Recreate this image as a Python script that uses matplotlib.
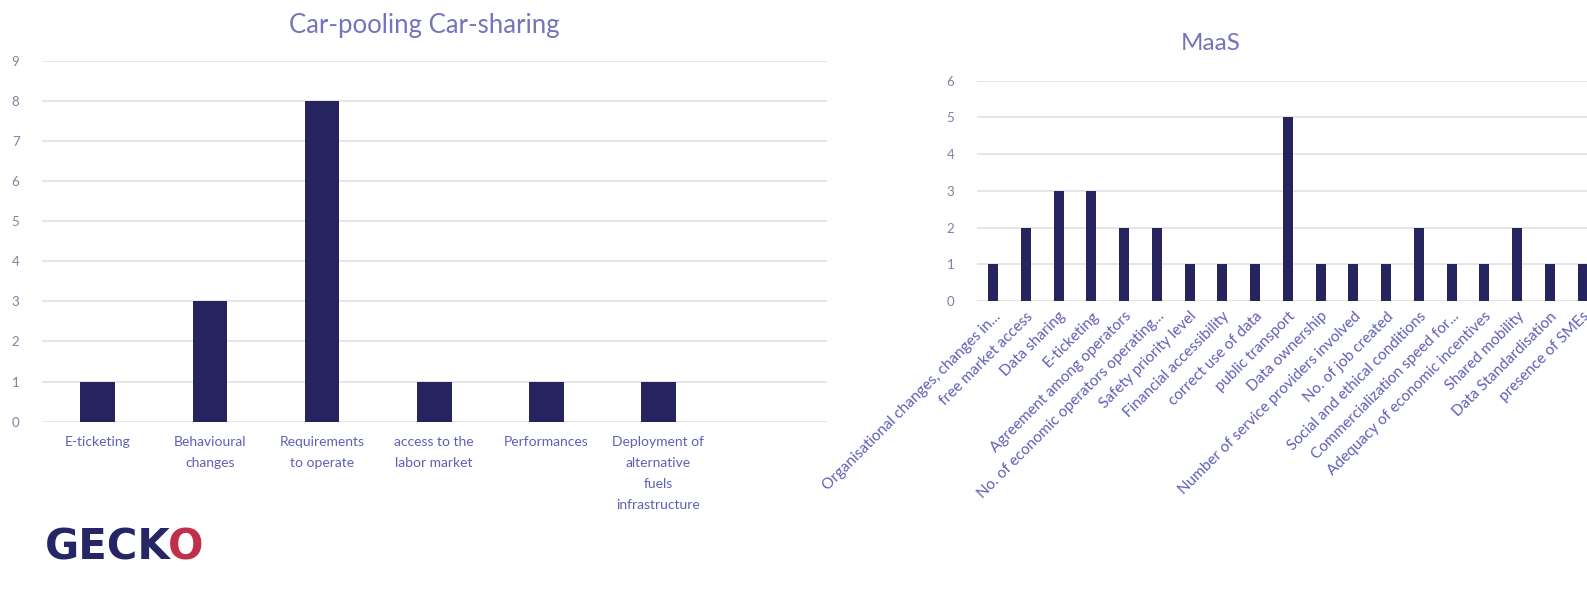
import matplotlib
matplotlib.use("Agg")
import matplotlib.pyplot as plt

# Car-pooling / Car-sharing counts
cp_labels = ["E-ticketing", "Behavioural\nchanges", "Requirements\nto operate",
             "access to the\nlabor market", "Performances",
             "Deployment of\nalternative\nfuels\ninfrastructure"]
cp_values = [1, 3, 8, 1, 1, 1]

# MaaS counts
maas_labels = ["Organisational changes, changes in...", "free market access",
               "Data sharing", "E-ticketing", "Agreement among operators",
               "No. of economic operators operating...", "Safety priority level",
               "Financial accessibility", "correct use of data", "public transport",
               "Data ownership", "Number of service providers involved",
               "No. of job created", "Social and ethical conditions",
               "Commercialization speed for...", "Adequacy of economic incentives",
               "Shared mobility", "Data Standardisation", "presence of SMEs"]
maas_values = [1, 2, 3, 3, 2, 2, 1, 1, 1, 5, 1, 1, 1, 2, 1, 1, 2, 1, 1]

plt.rcParams['font.family'] = ['Lato', 'DejaVu Sans']

bar_col = '#26245e'
lab_col = '#5f5fb8'
tick_col = '#8080a0'
grid_col = '#e2e2e2'

W, H = 1587, 592
fig = plt.figure(figsize=(W / 100, H / 100), dpi=100)


def style(ax, top):
    ax.set_ylim(0, top)
    ax.set_yticks(range(top + 1))
    ax.yaxis.grid(True, color=grid_col, lw=1.2)
    ax.set_axisbelow(True)
    for s in ax.spines.values():
        s.set_visible(False)
    ax.tick_params(length=0, colors=tick_col, labelsize=9.5)
    ax.tick_params(axis='x', labelcolor=lab_col)


# left chart
ax1 = fig.add_axes([41.7 / W, 1 - 421.7 / H, 785 / W, 361 / H])
ax1.bar(range(len(cp_values)), cp_values, width=0.31, color=bar_col)
style(ax1, 9)
ax1.set_xlim(-0.5, 6.5)
ax1.set_xticks(range(len(cp_labels)))
ax1.set_xticklabels(cp_labels, fontsize=10, linespacing=1.9)
ax1.tick_params(axis='y', pad=16)
ax1.tick_params(axis='x', pad=10)
fig.text(424 / W, 1 - 25 / H, "Car-pooling Car-sharing", ha='center', va='center',
         fontsize=18.5, color='#7474be')

# right chart (runs off the right edge like the source)
ax2 = fig.add_axes([976.7 / W, 1 - 301 / H, 622.3 / W, 220.3 / H])
ax2.bar(range(len(maas_values)), maas_values, width=0.31, color=bar_col)
style(ax2, 6)
ax2.set_xlim(-0.5, len(maas_values) - 0.5)
ax2.set_xticks(range(len(maas_labels)))
ax2.set_xticklabels(maas_labels, fontsize=11, rotation=45, ha='right',
                    rotation_mode='anchor')
ax2.tick_params(axis='y', pad=16)
ax2.tick_params(axis='x', pad=6)
fig.text(1211 / W, 1 - 44 / H, "MaaS", ha='center', va='center',
         fontsize=17.5, color='#7474be')

# logo text
fig.text(45 / W, 1 - 548 / H, "GECK", ha='left', va='center', fontsize=30,
         fontweight='bold', color='#262566', family='DejaVu Sans')
fig.text(168 / W, 1 - 548 / H, "O", ha='left', va='center', fontsize=30,
         fontweight='bold', color='#c0304a', family='DejaVu Sans')

fig.savefig("out.png", dpi=100)
